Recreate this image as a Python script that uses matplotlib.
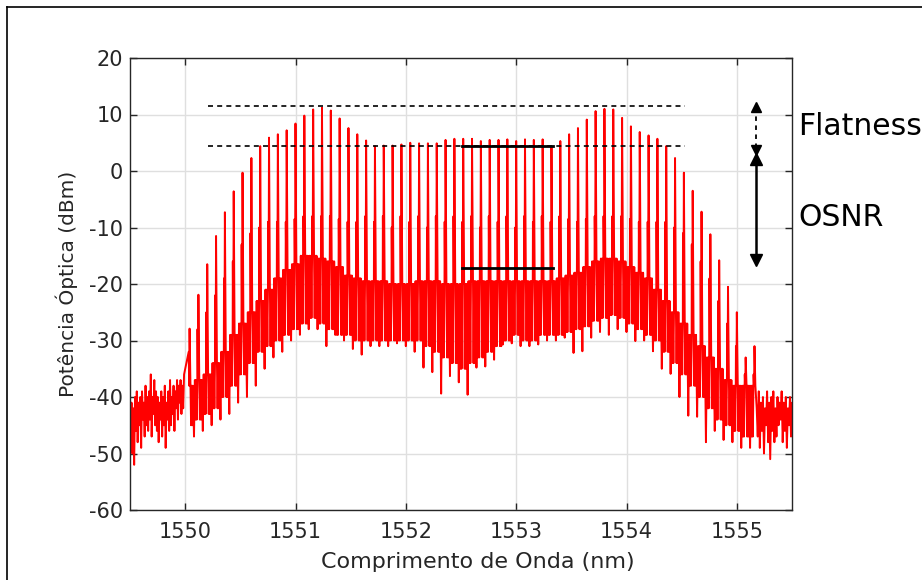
import matplotlib.pyplot as plt
import numpy as np
from matplotlib.lines import Line2D

plt.rcParams['axes.unicode_minus'] = False

# comb lines: wavelength (nm), peak power (dBm), shoulder spike on the left of each line
line_wl = [1550.04, 1550.12, 1550.20, 1550.28, 1550.36, 1550.44, 1550.52, 1550.60, 1550.68, 1550.76,
           1550.84, 1550.92, 1551.00, 1551.08, 1551.16, 1551.24, 1551.32, 1551.40, 1551.48, 1551.56,
           1551.64, 1551.72, 1551.80, 1551.88, 1551.96, 1552.04, 1552.12, 1552.20, 1552.28, 1552.36,
           1552.44, 1552.52, 1552.60, 1552.68, 1552.76, 1552.84, 1552.92, 1553.00, 1553.08, 1553.16,
           1553.24, 1553.32, 1553.40, 1553.48, 1553.56, 1553.64, 1553.72, 1553.80, 1553.88, 1553.96,
           1554.04, 1554.12, 1554.20, 1554.28, 1554.36, 1554.44, 1554.52, 1554.60, 1554.68, 1554.76,
           1554.84, 1554.92, 1555.00, 1555.08, 1555.16]
line_peak = [-27.9, -21.9, -16.5, -11.5, -7.3, -3.6, -0.3, 2.3, 4.4, 5.9,
             6.5, 7.2, 8.4, 9.8, 10.9, 11.2, 10.7, 9.3, 7.6, 6.5,
             5.4, 4.4, 4.5, 4.5, 4.7, 5.0, 4.9, 4.9, 4.9, 5.5,
             5.7, 5.7, 5.7, 5.3, 5.5, 5.5, 5.6, 5.3, 5.6, 5.5,
             5.6, 4.4, 5.3, 6.5, 7.6, 9.1, 10.6, 11.0, 10.9, 9.4,
             7.9, 6.9, 6.3, 5.7, 4.4, 2.3, -0.3, -3.5, -7.2, -11.2,
             -15.8, -20.5, -25.0, -33.0, -31.0]
line_side = [-32, -28, -25, -22, -19, -16, -13, -11, -10, -9,
             -9, -9, -8.5, -8, -8, -8, -8, -8.5, -9, -9,
             -8, -9, -8, -10, -8, -9, -8, -10, -8, -9,
             -8, -9, -8, -10, -8, -9, -8, -10, -8, -9,
             -8, -9, -8, -8.5, -9, -8.5, -8, -8, -8, -8,
             -8.5, -9, -9, -9, -9, -10, -11, -13, -16, -19,
             -23, -27, -31, -36, -36]

# ASE pedestal around each line: upper and lower edge of the band (dBm)
band_top = [-38, -37, -36, -34, -32, -29, -27, -25, -23, -21,
            -19, -17.5, -16.5, -15, -15, -15.5, -16, -17, -18.5, -19,
            -19.5, -19.5, -19.5, -20, -20, -20, -19.5, -19.5, -19.5, -20,
            -20, -20, -19.5, -19.5, -19.5, -19.5, -19.5, -19.5, -19.5, -19.5,
            -19.5, -19.5, -19, -18.5, -18, -17, -16, -15.5, -15.5, -16,
            -17, -18, -19, -21, -23, -25, -27, -29, -31, -33,
            -35, -37, -38, -38, -38]
band_bot = [-45, -44, -43, -42, -40, -38, -36, -34, -32, -31,
            -30, -29, -28, -27, -26, -27, -28, -29, -29, -30,
            -30, -30, -30, -30, -30, -30, -30, -31, -32, -33,
            -34, -35, -34, -33, -32, -31, -30, -29, -30, -30,
            -29, -29, -29, -28.5, -28, -27.5, -26.5, -26, -25.5, -26,
            -27, -28, -29, -30, -32, -34, -36, -38, -40, -42,
            -44, -45, -46, -47, -47]
# deepest dip between neighbouring lines
gap_dip = [-47, -46, -45, -44, -43, -41, -40, -38, -35, -33,
           -32, -30, -29, -28, -28, -31, -29, -30, -31.5, -32.5,
           -31, -31, -31, -30.5, -31, -32, -34.8, -35.6, -39.4, -36.3,
           -37.4, -39.6, -34.8, -34.6, -33.4, -30.7, -30.5, -31, -31, -30.7,
           -30, -30, -29.5, -32.2, -31.9, -29.5, -28.5, -29, -28, -28.5,
           -30.1, -30, -31.9, -35, -35.9, -40, -43.3, -43.5, -48, -46,
           -47.6, -48, -49, -49]

# noise floor outside the comb (dBm)
left_noise = [-44, -40, -47, -41, -50, -42, -52, -40, -46, -39, -48, -41, -45, -40, -49, -39,
              -44, -41, -47, -38, -45, -40, -46, -39, -44, -36, -47, -40, -43, -37, -45, -39,
              -46, -40, -48, -41, -44, -39, -47, -40, -45, -38, -49, -41, -44, -39, -46, -37,
              -45, -40, -43, -38, -46, -39, -42, -37, -44, -38, -41, -37, -43, -38, -42, -36]
right_noise = [-42, -47, -39, -49, -41, -46, -40, -50, -42, -45, -39, -48, -41, -51, -40, -46,
               -39, -48, -42, -47, -40, -45, -41, -44, -39, -48, -41, -46, -40, -49, -42, -45,
               -40, -47, -41, -44]

flat_hi = 11.45
flat_lo = 4.37
osnr_lo = -17.2

spacing = 0.08
wl = list(np.linspace(1549.49, 1549.99, len(left_noise)))
pw = list(left_noise)
for k in range(len(line_wl)):
    x = line_wl[k]
    wl += [x - 0.1 * spacing, x - 0.05 * spacing, x, x + 0.1 * spacing]
    pw += [line_side[k], band_top[k], line_peak[k], band_top[k]]
    if k < len(gap_dip):
        f = np.array([0.17, 0.24, 0.31, 0.38, 0.5, 0.6, 0.67, 0.74, 0.81, 0.88])
        wl += list(x + f * spacing)
        pw += [band_bot[k], band_top[k], band_bot[k], band_top[k], gap_dip[k],
               band_top[k + 1], band_bot[k + 1], band_top[k + 1], band_bot[k + 1], band_top[k + 1]]
wl += list(np.linspace(1555.18, 1555.51, len(right_noise)))
pw += right_noise

fig = plt.figure(figsize=(9.22, 5.8), dpi=100)
ax = fig.add_axes([130 / 922, 1 - 510 / 580, 662 / 922, 452 / 580])

ax.plot(wl, pw, color='red', lw=1.4, zorder=2)

# flatness / OSNR reference levels
ax.plot([1550.21, 1554.53], [flat_hi, flat_hi], 'k--', lw=1.2, dashes=(3, 2.5), zorder=3)
ax.plot([1550.21, 1554.53], [flat_lo, flat_lo], 'k--', lw=1.2, dashes=(3, 2.5), zorder=3)
ax.plot([1552.51, 1553.33], [flat_lo, flat_lo], 'k-', lw=2, zorder=4)
ax.plot([1552.51, 1553.33], [osnr_lo, osnr_lo], 'k-', lw=2, zorder=4)

xa = 1555.17
ax.plot([xa, xa], [4.0, 11.4], 'k--', lw=1.3, dashes=(2.5, 2.5), clip_on=False)
ax.plot([xa], [11.35], 'k^', ms=7, clip_on=False)
ax.plot([xa], [3.8], 'kv', ms=7, clip_on=False)
ax.plot([xa, xa], [2.2, -15.7], 'k-', lw=1.8, clip_on=False)
ax.plot([xa], [2.2], 'k^', ms=8.5, clip_on=False)
ax.plot([xa], [-15.75], 'kv', ms=8.5, clip_on=False)
ax.text(1555.555, 7.9, 'Flatness', fontsize=21.5, va='center', ha='left',
        color='black', clip_on=False)
ax.text(1555.555, -8.2, 'OSNR', fontsize=21.5, va='center', ha='left',
        color='black', clip_on=False)

ax.set_xlim(1549.5, 1555.5)
ax.set_ylim(-60, 20)
ax.set_xticks([1550, 1551, 1552, 1553, 1554, 1555])
ax.set_yticks(np.arange(-60, 21, 10))
ax.grid(True, color='#dfdfdf', lw=1)
ax.set_axisbelow(True)
ax.tick_params(direction='in', length=5, width=1, top=True, right=True,
               labelsize=15, colors='#262626')
ax.tick_params(axis='x', pad=9)
ax.tick_params(axis='y', pad=5)
for s in ax.spines.values():
    s.set_color('#262626')
    s.set_linewidth(1)
ax.set_xlabel('Comprimento de Onda (nm)', fontsize=16, color='#262626')
ax.xaxis.set_label_coords(0.525, -0.094)
ax.set_ylabel('Potência Óptica (dBm)', fontsize=14.5, color='#262626', labelpad=8)

# outer frame, top and left edges
fig.add_artist(Line2D([7 / 922, 1.0], [1 - 7 / 580, 1 - 7 / 580], color='black', lw=1.2))
fig.add_artist(Line2D([7 / 922, 7 / 922], [0, 1 - 7 / 580], color='black', lw=1.2))

fig.savefig('out.png', dpi=100)
